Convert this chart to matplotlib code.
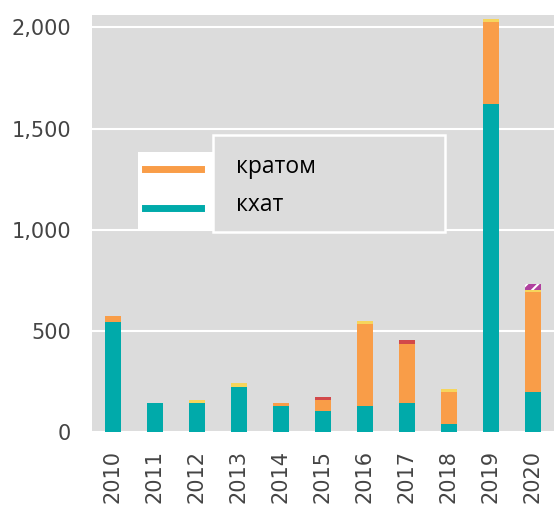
import numpy as np
import matplotlib
matplotlib.use("Agg")
import matplotlib.pyplot as plt
from matplotlib.patches import Rectangle
from matplotlib.lines import Line2D
from matplotlib.ticker import FuncFormatter

plt.rcParams['font.family'] = ['DejaVu Sans']

years = ['2010', '2011', '2012', '2013', '2014', '2015', '2016', '2017', '2018', '2019', '2020']
khat = [543, 143, 143, 222, 130, 105, 130, 143, 38, 1620, 198]
kratom = [30, 0, 0, 0, 15, 55, 403, 293, 161, 405, 493]
yellow = [0, 0, 15, 18, 0, 0, 15, 0, 13, 14, 12]
red = [0, 0, 0, 0, 0, 13, 0, 17, 0, 0, 0]
purple = [0, 0, 0, 0, 0, 0, 0, 0, 0, 0, 28]

c_teal = '#00AAAA'
c_orange = '#F99D48'
c_yellow = '#F6D55C'
c_red = '#D2494A'
c_purple = '#B0409E'

fig = plt.figure(figsize=(5.54, 5.07), dpi=100)
ax = fig.add_axes([0.166, 0.148, 0.834, 0.822])
ax.set_facecolor('#DCDCDC')

x = np.arange(len(years))
w = 0.4
bottom = np.zeros(len(years))
for vals, col in [(khat, c_teal), (kratom, c_orange), (yellow, c_yellow), (red, c_red)]:
    ax.bar(x, vals, w, bottom=bottom, color=col, linewidth=0, zorder=3)
    bottom += np.array(vals)
plt.rcParams['hatch.linewidth'] = 1.5
ax.bar(x, purple, w, bottom=bottom, color=c_purple, edgecolor='white',
       hatch='///', linewidth=0, zorder=3)

ax.set_xlim(-0.5, 10.5)
ax.set_ylim(0, 2060)
ax.set_yticks([0, 500, 1000, 1500, 2000])
ax.yaxis.set_major_formatter(FuncFormatter(lambda v, p: f'{int(v):,}'))
ax.set_xticks(x)
ax.set_xticklabels(years, rotation=90)
ax.tick_params(axis='both', length=0, labelsize=15, labelcolor='#444444')
ax.tick_params(axis='x', pad=13)
ax.tick_params(axis='y', pad=15)
ax.grid(axis='y', color='white', linewidth=1.5, zorder=1)
for s in ax.spines.values():
    s.set_visible(False)

# legend box
ax.add_patch(Rectangle((0.0996, 0.484), 0.162, 0.187, transform=ax.transAxes,
                       facecolor='white', edgecolor='none', zorder=5))
ax.add_patch(Rectangle((0.262, 0.480), 0.502, 0.232, transform=ax.transAxes,
                       facecolor='#DCDCDC', edgecolor='white', linewidth=1.8, zorder=5))
ax.add_line(Line2D([0.115, 0.236], [0.631, 0.631], transform=ax.transAxes,
                   color=c_orange, linewidth=5, zorder=6))
ax.add_line(Line2D([0.115, 0.236], [0.537, 0.537], transform=ax.transAxes,
                   color=c_teal, linewidth=5, zorder=6))
ax.text(0.312, 0.635, 'кратом', transform=ax.transAxes, fontsize=16.5,
        family=['Open Sans', 'DejaVu Sans'], va='center', ha='left', color='black', zorder=6)
ax.text(0.312, 0.545, 'кхат', transform=ax.transAxes, fontsize=16.5,
        family=['Open Sans', 'DejaVu Sans'], va='center', ha='left', color='black', zorder=6)

fig.savefig('out.png', dpi=100)
